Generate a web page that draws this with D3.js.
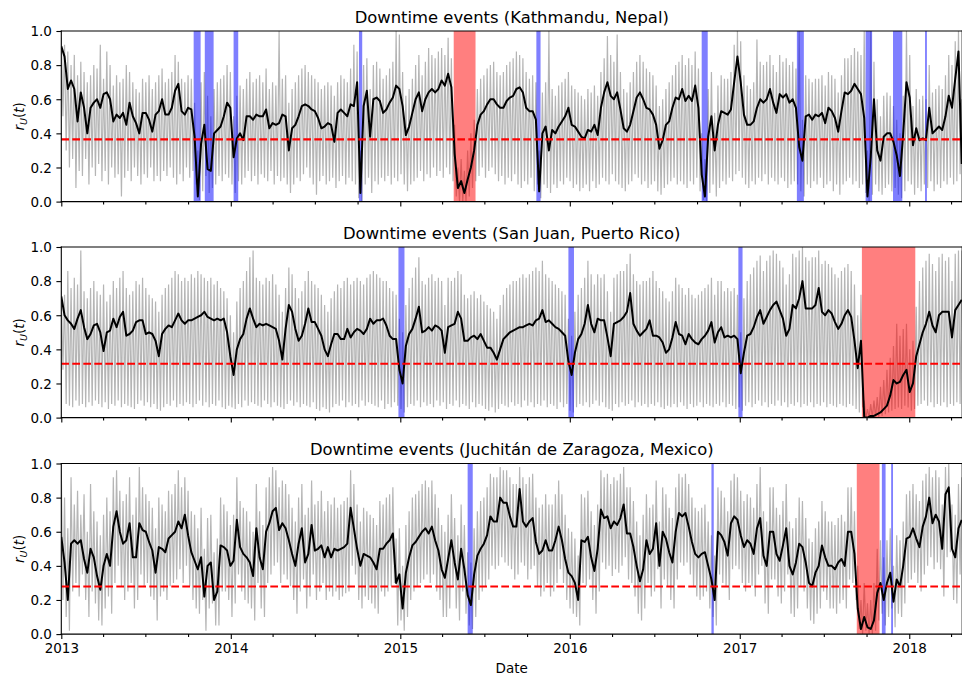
<!DOCTYPE html>
<html>
<head>
<meta charset="utf-8">
<script src="https://cdn.jsdelivr.net/npm/d3@7"></script>
<style>
  body { margin: 0; background: #fff; }
  svg { display: block; }
  text { font-family: "DejaVu Sans", sans-serif; fill: #000; }
</style>
</head>
<body>
<svg id="chart" width="962" height="675"></svg>
<script>
// ---- data ---------------------------------------------------------------
// Weekly samples starting at seriesStart; one value per week.
const seriesStart = "2013-01-01";
const stepDays = 7;
const axisStart = "2013-01-01";
const axisEnd = "2018-04-25";

const panelTitles = [
  "Downtime events (Kathmandu, Nepal)",
  "Downtime events (San Juan, Puerto Rico)",
  "Downtime events (Juchitán de Zaragoza, Mexico)"
];

const thresholds = [0.365, 0.316, 0.279];

const yTicks = [0, 0.2, 0.4, 0.6, 0.8, 1.0];

// Kathmandu: smoothed usage ratio, weekly raw peak and trough
const kathmanduSmooth = [
  .91,.85,.66,.71,.66,.47,.64,.55,.40,.55,
  .58,.60,.55,.63,.64,.60,.47,.51,.49,.52,
  .45,.58,.50,.46,.40,.52,.52,.48,.41,.51,
  .53,.60,.51,.51,.55,.65,.69,.53,.51,.55,
  .54,.38,.03,.34,.45,.19,.18,.40,.42,.44,
  .50,.58,.55,.26,.37,.40,.36,.50,.50,.48,
  .51,.50,.50,.54,.43,.46,.45,.46,.51,.50,
  .30,.43,.45,.50,.56,.57,.56,.54,.53,.49,
  .43,.44,.46,.45,.35,.52,.54,.52,.50,.57,
  .56,.70,.05,.56,.65,.38,.60,.61,.59,.52,
  .54,.58,.61,.68,.66,.56,.39,.44,.52,.60,
  .64,.53,.60,.64,.66,.64,.66,.71,.68,.75,
  .67,.28,.08,.12,.05,.13,.20,.30,.45,.51,
  .53,.57,.60,.60,.57,.55,.55,.59,.61,.62,
  .66,.67,.64,.55,.53,.53,.48,.06,.40,.44,
  .30,.42,.40,.44,.47,.50,.55,.45,.44,.41,
  .38,.37,.42,.41,.45,.39,.55,.64,.70,.62,
  .60,.64,.54,.43,.41,.45,.53,.61,.64,.60,
  .55,.54,.51,.45,.31,.36,.45,.47,.55,.61,
  .60,.66,.59,.62,.59,.68,.55,.16,.03,.38,
  .50,.30,.45,.53,.52,.51,.54,.70,.85,.70,
  .51,.45,.45,.47,.55,.60,.58,.60,.66,.58,
  .52,.63,.61,.63,.58,.60,.55,.32,.24,.50,
  .51,.48,.51,.50,.52,.46,.55,.53,.49,.41,
  .53,.64,.63,.65,.69,.66,.63,.49,.03,.26,
  .60,.30,.24,.38,.40,.40,.35,.27,.15,.40,
  .70,.61,.33,.43,.36,.37,.36,.55,.40,.42,
  .44,.42,.50,.62,.55,.72,.88,.22
];
const kathmanduHigh = [
  .96,.92,.88,.80,.86,.74,.82,.76,.70,.74,
  .80,.78,.92,.72,.88,.80,.68,.74,.70,.72,
  .80,.76,.70,.66,.64,.72,.70,.74,.66,.70,
  .74,.78,.70,.72,.76,.86,.82,.72,.70,.74,
  .72,.58,.30,.70,.76,.62,.50,.66,.70,.72,
  .74,.80,.76,.50,.62,.68,.66,.72,.76,.70,
  .72,.74,.70,.78,.66,.70,.68,1.0,.72,.74,
  .58,.66,.70,.74,.78,.80,.76,.74,.72,.70,
  .66,.68,.70,.68,.62,.70,.74,.72,.70,.78,
  .92,.88,.30,.80,.84,.66,.80,.82,.78,.72,
  .74,.78,.82,1.0,.98,.76,.62,.66,.72,.80,
  .86,.74,.82,.90,.86,.84,.88,.90,.86,.96,
  .84,.45,.20,.25,.18,.30,.40,.48,.66,.72,
  .74,.78,.80,.82,.76,.74,.76,.80,.82,.84,
  .88,.86,.84,.76,.72,.74,.70,.30,.64,.70,
  1.0,.66,.62,.68,.70,.72,.76,.68,.66,.64,
  .62,.60,.66,.64,.68,.62,.76,.84,.97,.86,
  .82,.98,.76,.66,.64,.70,.76,.82,.86,.82,
  .78,.76,.74,.68,.56,.60,.66,.70,.74,.80,
  .82,.86,.80,.84,.80,.88,.78,.40,.25,.66,
  .76,.52,.68,.74,.72,.72,.76,.92,1.0,.94,
  .74,.68,.66,.70,.95,.82,.80,.82,.86,.80,
  .76,.86,.82,.84,.80,.82,.78,1.0,.48,.74,
  .72,.70,.72,.72,.74,.68,.76,.74,.72,.64,
  .74,.84,.84,.86,.90,.88,.86,1.0,.30,1.0,
  .82,.60,.50,.62,.64,.62,.56,.48,.40,.62,
  1.0,.86,.56,.66,.60,.62,.60,.80,.64,.66,
  .68,.66,.74,.86,.80,.94,1.0,.60
];
const kathmanduLow = [
  .50,.30,.20,.25,.08,.18,.15,.25,.10,.20,
  .15,.22,.12,.18,.10,.20,.14,.16,.03,.14,
  .18,.12,.20,.15,.10,.16,.14,.20,.12,.15,
  .12,.18,.15,.20,.14,.10,.16,.12,.20,.14,
  .18,.10,.01,.06,.15,.05,.08,.10,.15,.12,
  .16,.14,.10,.05,.12,.10,.14,.18,.12,.15,
  .10,.16,.14,.12,.18,.10,.15,.12,.14,.10,
  .05,.10,.14,.12,.16,.20,.14,.10,.04,.12,
  .15,.10,.12,.14,.08,.12,.15,.10,.14,.12,
  .10,.02,.00,.10,.14,.05,.12,.10,.14,.12,
  .15,.10,.14,.12,.16,.10,.06,.10,.12,.14,
  .18,.12,.16,.14,.20,.15,.18,.14,.20,.16,
  .12,.03,.00,.00,.00,.03,.08,.12,.15,.20,
  .14,.18,.20,.16,.12,.15,.10,.14,.12,.16,
  .10,.08,.12,.10,.14,.06,.10,.02,.10,.08,
  .05,.10,.08,.12,.10,.14,.12,.08,.10,.06,
  .08,.10,.06,.12,.08,.10,.14,.12,.10,.16,
  .12,.10,.08,.06,.10,.12,.16,.14,.10,.12,
  .08,.10,.12,.06,.04,.08,.10,.12,.14,.10,
  .12,.10,.08,.12,.10,.14,.06,.01,.00,.05,
  .10,.03,.08,.12,.10,.14,.12,.16,.18,.14,
  .10,.08,.12,.10,.14,.12,.16,.10,.14,.12,
  .10,.14,.12,.08,.10,.12,.10,.06,.03,.10,
  .08,.12,.10,.14,.08,.10,.12,.06,.10,.04,
  .10,.12,.14,.10,.12,.08,.10,.05,.00,.04,
  .10,.06,.04,.08,.10,.06,.08,.04,.02,.06,
  .12,.10,.04,.08,.06,.10,.08,.12,.06,.10,
  .08,.12,.10,.14,.10,.12,.16,.05
];
const kathmanduShortEvents = [
  ["2013-10-13", "2013-10-28"], ["2013-11-06", "2013-11-25"],
  ["2014-01-07", "2014-01-17"], ["2014-10-04", "2014-10-11"],
  ["2015-10-21", "2015-10-30"], ["2016-10-11", "2016-10-24"],
  ["2017-05-04", "2017-05-19"], ["2017-09-29", "2017-10-13"],
  ["2017-11-27", "2017-12-17"], ["2018-02-04", "2018-02-08"]
];
const kathmanduLongEvents = [["2015-04-26", "2015-06-12"]];

// San Juan
const sanJuanSmooth = [
  .71,.60,.57,.55,.52,.58,.63,.53,.46,.49,
  .54,.55,.50,.39,.50,.51,.58,.53,.59,.62,
  .48,.49,.51,.56,.57,.57,.49,.50,.49,.45,
  .36,.49,.52,.54,.53,.57,.61,.57,.55,.57,
  .57,.58,.59,.60,.62,.59,.58,.57,.58,.57,
  .58,.50,.36,.25,.40,.46,.49,.58,.64,.58,
  .53,.55,.54,.55,.54,.53,.52,.45,.34,.52,
  .66,.62,.52,.45,.48,.55,.64,.56,.56,.52,
  .48,.40,.36,.43,.49,.49,.46,.46,.52,.47,
  .50,.52,.51,.49,.52,.58,.55,.57,.57,.58,
  .54,.48,.46,.46,.28,.20,.42,.49,.52,.58,
  .65,.50,.51,.53,.51,.54,.53,.51,.38,.53,
  .54,.55,.62,.58,.45,.45,.47,.48,.46,.49,
  .45,.41,.41,.38,.34,.40,.46,.48,.50,.51,
  .52,.53,.53,.54,.55,.54,.57,.58,.63,.56,
  .57,.55,.53,.52,.50,.48,.33,.25,.38,.46,
  .49,.55,.66,.55,.50,.58,.57,.57,.47,.36,
  .55,.56,.57,.59,.62,.73,.55,.51,.48,.50,
  .52,.57,.48,.48,.47,.44,.38,.40,.47,.56,
  .49,.48,.43,.49,.46,.44,.43,.46,.48,.51,
  .56,.44,.50,.53,.47,.48,.47,.48,.46,.26,
  .38,.48,.49,.53,.59,.63,.55,.59,.63,.66,
  .68,.63,.58,.48,.52,.66,.64,.70,.80,.64,
  .64,.64,.66,.76,.62,.60,.63,.61,.56,.52,
  .55,.60,.63,.59,.45,.29,.45,.00,.00,.01,
  .01,.02,.03,.05,.07,.13,.22,.20,.21,.25,
  .28,.15,.20,.36,.43,.50,.55,.62,.54,.50,
  .60,.62,.62,.62,.47,.63,.66,.69
];
const sanJuanHigh = [
  .74,.72,.86,.76,.82,.78,.98,.74,.70,.76,
  .80,.74,.72,.78,.68,.72,.80,.76,.82,.86,
  .76,.72,.74,.80,.78,.82,.76,.72,.70,.68,
  .62,.72,.76,.78,.82,.86,.84,.80,.82,.80,
  .84,.82,.86,.84,.82,.80,.82,.78,.80,.76,
  .74,.70,.60,.50,.68,.76,.80,.86,.94,.98,
  .82,.80,.78,.82,.80,.84,.78,.72,.62,.76,
  .88,.84,.76,.70,.74,.80,.86,.80,.78,.76,
  .72,.66,.62,.70,.74,.78,.76,.80,.82,.78,
  .80,.82,.80,.78,.82,.84,.86,.84,.82,.80,
  .80,.76,.74,.72,.58,.50,.66,.76,.82,.88,
  .94,.80,.78,.82,.84,.80,.82,.80,.66,.82,
  .80,.82,.86,.84,.72,.70,.72,.74,.70,.72,
  .68,.66,.64,.62,.58,.66,.72,.76,.78,.80,
  .80,.82,.84,.82,.84,.86,.88,.86,.92,.84,
  .82,.80,.78,.76,.74,.72,.58,.48,.62,.72,
  .76,.82,.92,.84,.78,.84,.82,.84,.74,.62,
  .82,.84,.86,.86,.90,.96,.84,.80,.78,.80,
  .80,.82,.86,.80,.76,.74,.70,.68,.74,.82,
  .78,.76,.72,.76,.72,.70,.72,.74,.76,.78,
  .82,.72,.80,.80,.74,.76,.74,.76,.72,.50,
  .70,.80,.84,.88,.92,.95,.86,.92,.95,.98,
  .96,.92,.88,.78,.84,.96,.94,.98,1.0,.94,
  .92,.94,.94,.98,.90,.92,.90,.88,.84,.82,
  .86,.88,.90,.86,.78,.60,.72,.10,.05,.08,
  .10,.12,.18,.22,.28,.35,.42,.55,.48,.52,
  .55,.40,.45,.65,.80,.88,.92,.96,.90,.86,
  .94,.96,.92,.94,.80,.96,.98,.98
];
const sanJuanLow = [
  .28,.08,.07,.06,.10,.07,.08,.06,.09,.07,
  .10,.08,.06,.09,.05,.08,.07,.10,.06,.08,
  .07,.06,.05,.08,.10,.07,.09,.06,.08,.05,
  .04,.06,.08,.07,.10,.06,.08,.07,.09,.08,
  .06,.08,.10,.07,.09,.06,.08,.07,.10,.06,
  .05,.07,.06,.05,.08,.06,.10,.07,.09,.08,
  .07,.06,.10,.08,.06,.09,.07,.06,.05,.08,
  .10,.07,.09,.06,.08,.07,.06,.09,.05,.04,
  .06,.05,.03,.06,.08,.07,.10,.06,.09,.07,
  .08,.06,.10,.07,.09,.08,.07,.06,.10,.05,
  .08,.06,.09,.07,.05,.03,.06,.08,.07,.10,
  .06,.09,.07,.08,.06,.10,.07,.09,.05,.08,
  .07,.10,.06,.08,.07,.05,.09,.06,.08,.07,
  .05,.04,.06,.03,.05,.08,.07,.06,.09,.07,
  .08,.06,.10,.07,.09,.06,.08,.07,.10,.06,
  .08,.07,.05,.09,.06,.08,.04,.03,.06,.08,
  .07,.09,.06,.08,.10,.07,.09,.06,.05,.04,
  .08,.06,.09,.07,.08,.10,.06,.09,.07,.08,
  .06,.08,.07,.09,.06,.05,.07,.06,.08,.06,
  .09,.07,.05,.08,.06,.07,.09,.06,.08,.07,
  .06,.08,.07,.09,.06,.08,.07,.05,.06,.04,
  .07,.09,.06,.08,.10,.07,.09,.06,.08,.07,
  .10,.07,.09,.06,.08,.07,.09,.06,.08,.07,
  .09,.06,.08,.07,.09,.06,.08,.07,.06,.08,
  .07,.06,.08,.07,.05,.03,.06,.00,.00,.00,
  .00,.00,.01,.02,.03,.04,.05,.06,.05,.07,
  .06,.04,.05,.07,.08,.10,.07,.09,.06,.08,
  .07,.09,.06,.08,.07,.09,.08,.07
];
const sanJuanShortEvents = [
  ["2014-12-28", "2015-01-10"], ["2015-12-29", "2016-01-10"],
  ["2016-12-29", "2017-01-07"]
];
const sanJuanLongEvents = [["2017-09-21", "2018-01-14"]];

// Juchitán de Zaragoza
const juchitanSmooth = [
  .57,.42,.20,.53,.55,.53,.55,.44,.36,.50,
  .45,.34,.26,.40,.47,.40,.63,.72,.60,.53,
  .55,.65,.45,.45,.65,.61,.60,.54,.49,.36,
  .51,.50,.48,.56,.58,.60,.66,.62,.70,.58,
  .48,.43,.38,.45,.22,.40,.42,.20,.25,.52,
  .51,.49,.40,.43,.67,.51,.47,.45,.42,.34,
  .62,.45,.38,.60,.65,.72,.74,.61,.65,.62,
  .55,.47,.40,.53,.62,.42,.47,.64,.49,.50,
  .52,.45,.51,.45,.50,.49,.50,.51,.53,.74,
  .62,.50,.40,.47,.46,.45,.42,.38,.50,.50,
  .53,.55,.59,.30,.35,.15,.36,.45,.52,.54,
  .57,.60,.62,.59,.63,.55,.49,.38,.33,.44,
  .55,.42,.32,.50,.38,.23,.17,.35,.46,.50,
  .53,.58,.69,.66,.66,.80,.77,.77,.69,.63,
  .63,.85,.66,.63,.66,.68,.54,.47,.49,.55,
  .49,.49,.55,.63,.55,.44,.36,.34,.30,.20,
  .55,.54,.57,.45,.37,.50,.73,.68,.69,.62,
  .66,.64,.68,.76,.59,.59,.51,.40,.31,.38,
  .55,.47,.50,.65,.40,.60,.56,.48,.42,.60,
  .71,.69,.71,.63,.54,.47,.45,.47,.48,.40,
  .32,.20,.60,.58,.54,.46,.65,.69,.67,.58,
  .51,.55,.53,.47,.62,.68,.46,.40,.60,.60,
  .47,.43,.52,.62,.40,.35,.42,.53,.51,.42,
  .30,.28,.36,.40,.52,.45,.40,.40,.38,.42,
  .44,.40,.60,.60,.47,.15,.03,.10,.04,.03,
  .08,.24,.30,.20,.30,.36,.19,.32,.28,.40,
  .56,.57,.62,.56,.51,.63,.69,.80,.65,.70,
  .66,.50,.82,.86,.50,.45,.62,.67
];
const juchitanHigh = [
  .96,.80,.62,.92,.76,.84,.70,.82,.60,.88,
  .72,.66,.58,.70,.80,.72,.92,.96,.84,.78,
  .82,.92,.70,.80,.98,.86,.82,.78,.74,.62,
  .80,.76,.72,.84,.82,.88,.96,.86,.92,.84,
  .72,.70,.62,.74,.50,.68,.70,.48,.56,.80,
  .76,.72,.64,.70,.92,.78,.74,.72,.66,.60,
  .88,.72,.64,.86,.92,.98,.96,.86,.90,.88,
  .82,.74,.66,.80,.88,.70,.74,.90,.76,.78,
  .84,.72,.78,.76,.80,.74,.76,.78,.80,.96,
  .88,.76,.66,.74,.72,.70,.68,.64,.78,.76,
  .80,.82,.86,.56,.62,.40,.64,.72,.80,.82,
  .84,.88,.90,.86,.90,.82,.74,.64,.60,.70,
  .82,.68,.58,.76,.64,.48,.42,.62,.72,.78,
  .80,.86,.94,.92,.92,.98,.96,.96,.92,.88,
  .88,.98,.92,.88,.92,.94,.80,.74,.76,.82,
  .76,.76,.82,.90,.82,.70,.62,.60,.56,.46,
  .82,.80,.84,.72,.64,.76,.96,.92,.94,.88,
  .92,.90,.94,.98,.86,.86,.78,.66,.58,.70,
  .82,.74,.76,.90,.66,.86,.82,.74,.68,.86,
  .94,.92,.94,.88,.80,.74,.72,.74,.76,.66,
  .58,.46,.86,.84,.80,.72,.90,.94,.92,.84,
  .78,.82,.80,.74,.88,.98,.72,.66,.86,.86,
  .74,.70,.78,.88,.66,.62,.68,.80,.78,.68,
  .56,.54,.62,.66,.78,.72,.66,.66,.64,.68,
  .70,.66,.86,.86,.72,.40,.20,.30,.18,.20,
  .30,.50,.55,.45,.55,.62,.40,.58,.55,.66,
  .82,.84,.88,.82,.78,.90,.94,.98,.92,.96,
  .92,.76,.98,1.0,.76,.70,.88,.92
];
const juchitanLow = [
  .20,.10,.02,.25,.30,.22,.35,.20,.10,.25,
  .18,.08,.05,.15,.22,.12,.30,.40,.28,.20,
  .25,.30,.15,.20,.35,.28,.30,.22,.20,.08,
  .22,.25,.20,.28,.30,.32,.38,.30,.40,.28,
  .20,.15,.12,.20,.02,.15,.18,.05,.05,.25,
  .25,.20,.10,.18,.35,.25,.20,.18,.15,.08,
  .30,.15,.10,.30,.35,.40,.42,.30,.35,.32,
  .28,.20,.12,.25,.32,.15,.22,.35,.20,.25,
  .30,.20,.25,.22,.25,.20,.22,.24,.25,.40,
  .35,.20,.15,.22,.20,.18,.15,.12,.25,.22,
  .25,.28,.30,.05,.08,.02,.10,.20,.25,.28,
  .30,.32,.35,.30,.35,.25,.20,.10,.10,.15,
  .28,.15,.08,.25,.12,.05,.03,.10,.20,.25,
  .28,.32,.40,.38,.40,.45,.42,.40,.38,.32,
  .35,.42,.40,.32,.38,.40,.28,.22,.25,.30,
  .22,.25,.30,.38,.30,.20,.15,.12,.10,.05,
  .30,.28,.32,.20,.12,.25,.42,.38,.40,.34,
  .38,.36,.40,.45,.32,.30,.22,.12,.08,.15,
  .30,.22,.25,.38,.15,.32,.28,.20,.15,.32,
  .42,.40,.42,.35,.28,.22,.20,.22,.25,.15,
  .10,.05,.35,.30,.28,.20,.38,.40,.38,.30,
  .25,.30,.28,.22,.35,.40,.18,.12,.32,.32,
  .22,.18,.25,.35,.12,.10,.15,.28,.25,.15,
  .08,.06,.12,.15,.25,.20,.15,.15,.12,.18,
  .20,.15,.32,.30,.20,.03,.00,.02,.00,.00,
  .02,.08,.12,.05,.10,.15,.04,.12,.10,.18,
  .30,.32,.36,.30,.25,.35,.40,.45,.38,.42,
  .38,.22,.45,.48,.20,.18,.35,.40
];
const juchitanShortEvents = [
  ["2015-05-26", "2015-06-06"], ["2016-11-01", "2016-11-06"],
  ["2017-11-03", "2017-11-11"], ["2017-11-23", "2017-11-27"]
];
const juchitanLongEvents = [["2017-09-10", "2017-10-29"]];

const panels = [
  { smooth: kathmanduSmooth, high: kathmanduHigh, low: kathmanduLow,
    shortEvents: kathmanduShortEvents, longEvents: kathmanduLongEvents },
  { smooth: sanJuanSmooth, high: sanJuanHigh, low: sanJuanLow,
    shortEvents: sanJuanShortEvents, longEvents: sanJuanLongEvents },
  { smooth: juchitanSmooth, high: juchitanHigh, low: juchitanLow,
    shortEvents: juchitanShortEvents, longEvents: juchitanLongEvents }
];

// ---- layout -------------------------------------------------------------
const left = 61.3, right = 962.2;
const panelTops = [31, 247, 463.5];
const panelHeight = 170.6;
const tickFont = 13.5, titleFont = 16.4;

const parse = d3.utcParse("%Y-%m-%d");
const t0 = parse(seriesStart);
const DAY = 864e5;
const dayAt = d => new Date(t0.getTime() + d * DAY);

const x = d3.scaleUtc().domain([parse(axisStart), parse(axisEnd)]).range([left, right]);
const years = d3.utcYear.range(parse("2013-01-01"), parse(axisEnd));
const quarters = d3.utcMonth.every(3).range(parse("2013-01-01"), parse(axisEnd))
  .filter(d => d.getUTCMonth() !== 0);

const svg = d3.select("#chart");

panels.forEach((p, i) => {
  const top = panelTops[i], bottom = top + panelHeight;
  const y = d3.scaleLinear().domain([0, 1]).range([bottom, top]);
  const g = svg.append("g");

  const clipId = "clip" + i;
  svg.append("clipPath").attr("id", clipId)
    .append("rect").attr("x", left).attr("y", top)
    .attr("width", right - left).attr("height", panelHeight);
  const plot = g.append("g").attr("clip-path", `url(#${clipId})`);

  // raw daily signal: weekly peak followed by weekend trough
  const raw = [];
  p.high.forEach((h, k) => {
    raw.push([dayAt(k * stepDays), h]);
    raw.push([dayAt(k * stepDays + 3.5), p.low[k]]);
  });
  plot.append("path")
    .attr("d", d3.line().x(d => x(d[0])).y(d => y(d[1]))(raw))
    .attr("fill", "none").attr("stroke", "#808080")
    .attr("stroke-opacity", 0.58).attr("stroke-width", 1.2);

  // downtime spans
  plot.selectAll(".short").data(p.shortEvents).join("rect")
    .attr("x", d => x(parse(d[0])))
    .attr("width", d => x(parse(d[1])) - x(parse(d[0])))
    .attr("y", top).attr("height", panelHeight)
    .attr("fill", "#0000ff").attr("fill-opacity", 0.5);
  plot.selectAll(".long").data(p.longEvents).join("rect")
    .attr("x", d => x(parse(d[0])))
    .attr("width", d => x(parse(d[1])) - x(parse(d[0])))
    .attr("y", top).attr("height", panelHeight)
    .attr("fill", "#ff0000").attr("fill-opacity", 0.5);

  // smoothed ratio
  plot.append("path")
    .attr("d", d3.line().x((v, k) => x(dayAt(k * stepDays))).y(v => y(v))(p.smooth))
    .attr("fill", "none").attr("stroke", "#000")
    .attr("stroke-width", 2).attr("stroke-linejoin", "round");

  // threshold
  plot.append("line")
    .attr("x1", left).attr("x2", right)
    .attr("y1", y(thresholds[i])).attr("y2", y(thresholds[i]))
    .attr("stroke", "#ff0000").attr("stroke-width", 2.1)
    .attr("stroke-dasharray", "7.7,3.3");

  // axes
  const xMajor = d3.axisBottom(x).tickValues(years).tickSize(4.9).tickSizeOuter(0)
    .tickPadding(4.5)
    .tickFormat(i === panels.length - 1 ? d3.utcFormat("%Y") : () => "");
  const xMinor = d3.axisBottom(x).tickValues(quarters).tickSize(2.8).tickSizeOuter(0)
    .tickFormat(() => "");
  const gx = g.append("g").attr("transform", `translate(0,${bottom})`).call(xMajor);
  const gxm = g.append("g").attr("transform", `translate(0,${bottom})`).call(xMinor);
  const yAxis = d3.axisLeft(y).tickValues(yTicks).tickSize(4.9).tickSizeOuter(0)
    .tickPadding(4.5).tickFormat(d3.format(".1f"));
  const gy = g.append("g").attr("transform", `translate(${left},0)`).call(yAxis);
  [gx, gxm, gy].forEach(a => {
    a.select(".domain").remove();
    a.attr("font-family", "DejaVu Sans, sans-serif").attr("font-size", tickFont);
    a.selectAll("line").attr("stroke", "#000").attr("stroke-width", 1.1);
    a.selectAll("text").attr("fill", "#000");
  });
  gy.selectAll("text").attr("dy", "0.36em");

  // spines
  const spine = [[left, top, right, top], [left, bottom, right, bottom],
                 [left, top, left, bottom], [right, top, right, bottom]];
  spine.forEach(s => g.append("line")
    .attr("x1", s[0]).attr("y1", s[1]).attr("x2", s[2]).attr("y2", s[3])
    .attr("stroke", "#000").attr("stroke-width", 1.1)
    .attr("stroke-linecap", "square"));

  // title
  g.append("text").attr("x", (left + right) / 2).attr("y", top - 8.4)
    .attr("text-anchor", "middle").attr("font-size", titleFont)
    .text(panelTitles[i]);

  // y label  r_U(t)
  const yl = g.append("text")
    .attr("transform", `translate(23.5,${(top + bottom) / 2}) rotate(-90)`)
    .attr("text-anchor", "middle").attr("font-size", tickFont);
  yl.append("tspan").attr("font-style", "italic").text("r");
  yl.append("tspan").attr("font-style", "italic").attr("font-size", 9.5)
    .attr("dy", 3.2).text("U");
  yl.append("tspan").attr("dy", -3.2).text("(");
  yl.append("tspan").attr("font-style", "italic").text("t");
  yl.append("tspan").text(")");
});

// x label
svg.append("text").attr("x", (left + right) / 2).attr("y", 672.5)
  .attr("text-anchor", "middle").attr("font-size", tickFont).text("Date");
</script>
</body>
</html>
